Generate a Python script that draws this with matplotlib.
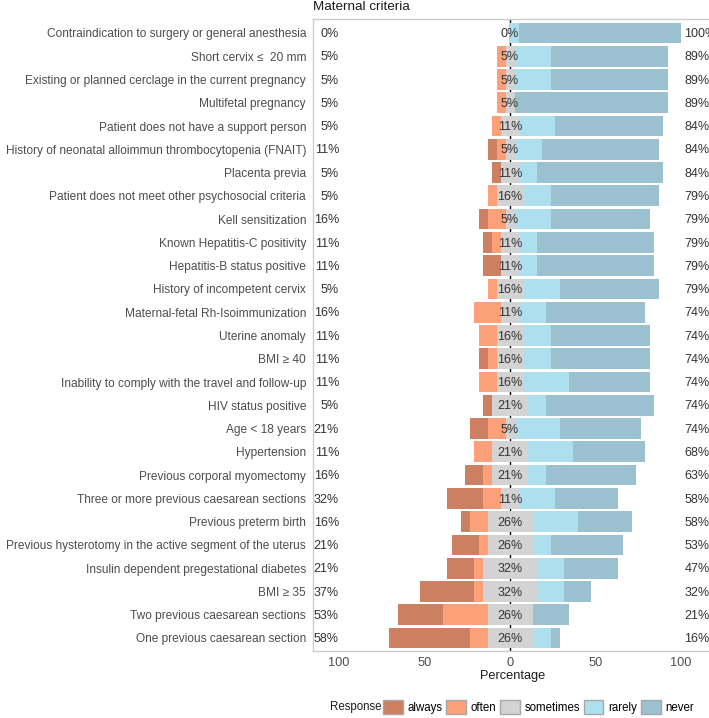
import numpy as np
import matplotlib.pyplot as plt
from matplotlib.patches import Patch

plt.rcParams['font.family'] = ['Liberation Sans', 'DejaVu Sans']

# items, top to bottom
items = [
    "Contraindication to surgery or general anesthesia",
    "Short cervix \u2264  20 mm",
    "Existing or planned cerclage in the current pregnancy",
    "Multifetal pregnancy",
    "Patient does not have a support person",
    "History of neonatal alloimmun thrombocytopenia (FNAIT)",
    "Placenta previa",
    "Patient does not meet other psychosocial criteria",
    "Kell sensitization",
    "Known Hepatitis-C positivity",
    "Hepatitis-B status positive",
    "History of incompetent cervix",
    "Maternal-fetal Rh-Isoimmunization",
    "Uterine anomaly",
    "BMI \u2265 40",
    "Inability to comply with the travel and follow-up",
    "HIV status positive",
    "Age < 18 years",
    "Hypertension",
    "Previous corporal myomectomy",
    "Three or more previous caesarean sections",
    "Previous preterm birth",
    "Previous hysterotomy in the active segment of the uterus",
    "Insulin dependent pregestational diabetes",
    "BMI \u2265 35",
    "Two previous caesarean sections",
    "One previous caesarean section",
]

# answer counts out of 19 respondents
n_resp = 19
always    = [0, 0, 0, 0, 0, 1, 1, 0, 1, 1, 2, 0, 0, 0, 1, 0, 1, 2, 0, 2, 4, 1, 3, 3, 6, 5, 9]
often     = [0, 1, 1, 1, 1, 1, 0, 1, 2, 1, 0, 1, 3, 2, 1, 2, 0, 2, 2, 1, 2, 2, 1, 1, 1, 5, 2]
sometimes = [0, 1, 1, 1, 2, 1, 2, 3, 1, 2, 2, 3, 2, 3, 3, 3, 4, 1, 4, 4, 2, 5, 5, 6, 6, 5, 5]
rarely    = [1, 4, 4, 0, 4, 3, 2, 3, 4, 2, 2, 4, 3, 3, 3, 5, 2, 5, 5, 2, 4, 5, 2, 3, 3, 0, 2]
never     = [18, 13, 13, 17, 12, 13, 14, 12, 11, 13, 13, 11, 11, 11, 11, 9, 12, 9, 8, 10, 7, 6, 8, 6, 3, 4, 1]

levels = ["always", "often", "sometimes", "rarely", "never"]
colors = ["#CD7F62", "#FCA07A", "#D3D3D3", "#AEDFEE", "#9BC0CF"]

pa = np.array(always) / n_resp * 100
po = np.array(often) / n_resp * 100
ps = np.array(sometimes) / n_resp * 100
pr = np.array(rarely) / n_resp * 100
pn = np.array(never) / n_resp * 100

y = np.arange(len(items))
h = 0.89

fig = plt.figure(figsize=(7.09, 7.18), dpi=100)
ax = fig.add_axes([313 / 709, 67 / 718, 399 / 709, 632 / 718])

ax.axvline(0, color="black", lw=1, zorder=1)

# diverging stacks
ax.barh(y, po, left=-ps / 2 - po, height=h, color=colors[1], zorder=2)
ax.barh(y, pa, left=-ps / 2 - po - pa, height=h, color=colors[0], zorder=2)
ax.barh(y, ps, left=-ps / 2, height=h, color=colors[2], zorder=2)
ax.barh(y, pr, left=ps / 2, height=h, color=colors[3], zorder=2)
ax.barh(y, pn, left=ps / 2 + pr, height=h, color=colors[4], zorder=2)

txtc = "#333333"
fs = 9.0
for i in range(len(items)):
    ax.text(-100, y[i] + 0.05, "%d%%" % round(pa[i] + po[i]), ha="right", va="center",
            fontsize=fs, color=txtc, zorder=3)
    ax.text(0, y[i] + 0.05, "%d%%" % round(ps[i]), ha="center", va="center",
            fontsize=fs, color=txtc, zorder=3)
    ax.text(102, y[i] + 0.05, "%d%%" % round(pr[i] + pn[i]), ha="left", va="center",
            fontsize=fs, color=txtc, zorder=3)

ax.set_xlim(-115.2, 118.1)
ax.set_ylim(len(items) - 0.44, -0.6)
ax.set_yticks(y)
ax.set_yticklabels(items, fontsize=8.6, color="#4D4D4D")
ax.set_xticks([-100, -50, 0, 50, 100])
ax.set_xticklabels(["100", "50", "0", "50", "100"], fontsize=9.2, color="#4D4D4D")
ax.tick_params(axis="y", length=0, pad=5)
ax.tick_params(axis="x", length=0, pad=4)
ax.set_xlabel("Percentage", fontsize=9.2, color="#1A1A1A", labelpad=1)
for s in ax.spines.values():
    s.set_color("#CCCCCC")
    s.set_linewidth(1)

fig.text(313 / 709, 1 - 7 / 718, "Maternal criteria", fontsize=9.7, color="#1A1A1A",
         ha="left", va="center")

handles = [Patch(facecolor=c, edgecolor="#A8A8A8", linewidth=1) for c in colors]
fig.text(330 / 709, 1 - 707 / 718, "Response", fontsize=8.3, color="#1A1A1A",
         ha="left", va="center")
fig.legend(handles, levels, loc="center left", bbox_to_anchor=(383 / 709, 1 - 707 / 718),
           ncol=5, frameon=False, fontsize=8.3, handlelength=1.7, handleheight=1.6,
           handletextpad=0.4, columnspacing=0.35, borderpad=0, borderaxespad=0)

fig.savefig("out.png", dpi=100)
